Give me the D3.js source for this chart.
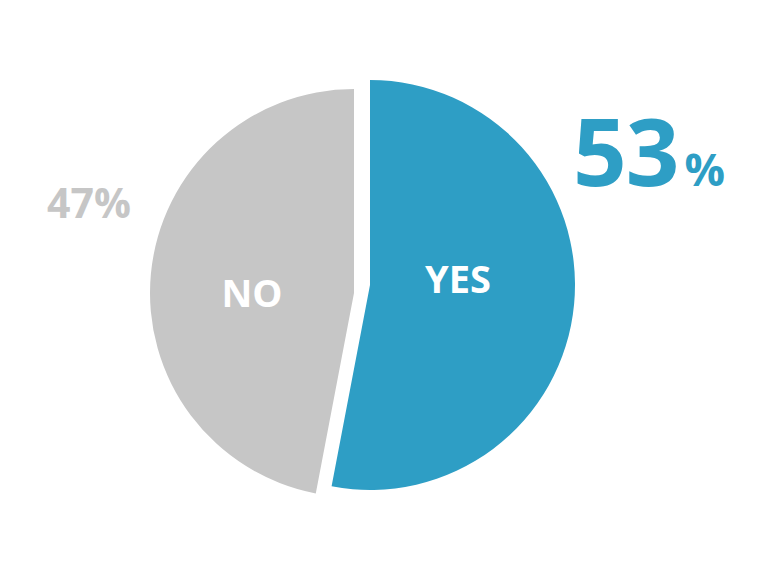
<!DOCTYPE html>
<html>
<head>
<meta charset="utf-8">
<script src="https://cdn.jsdelivr.net/npm/d3@7"></script>
<style>
  html, body { margin: 0; padding: 0; background: #fff; }
  svg { display: block; font-family: "Open Sans", "Noto Sans", sans-serif; font-weight: 700; }
</style>
</head>
<body>
<svg id="chart" width="780" height="588"></svg>
<script>
const categories = ["YES", "NO"];
const values = [53, 47];
const percentLabels = ["53", "47"];

const colors = d3.scaleOrdinal().domain(categories).range(["#2E9EC5", "#C6C6C6"]);

const svg = d3.select("#chart");
const pie = d3.pie().sort(null).value(d => d.value);
const data = categories.map((c, i) => ({ category: c, value: values[i] }));
const arcs = pie(data);

const centers = { YES: [370, 285], NO: [354, 293] };
const radius = { YES: 205, NO: 204 };

const g = svg.selectAll("g.slice").data(arcs).enter().append("g")
  .attr("class", "slice")
  .attr("transform", d => `translate(${centers[d.data.category][0]},${centers[d.data.category][1]})`);

g.append("path")
  .attr("d", d => d3.arc().innerRadius(0).outerRadius(radius[d.data.category])(d))
  .attr("fill", d => colors(d.data.category));

// in-slice labels
const inLabel = { YES: { dx: 88, dy: 7.5, size: 38 }, NO: { dx: -102, dy: 13.5, size: 38 } };
g.append("text")
  .attr("x", d => inLabel[d.data.category].dx)
  .attr("y", d => inLabel[d.data.category].dy)
  .attr("text-anchor", "middle")
  .attr("fill", "#fff")
  .attr("font-size", d => inLabel[d.data.category].size)
  .text(d => d.data.category);

// big percentage YES
const t1 = svg.append("text")
  .attr("x", 573).attr("y", 186)
  .attr("fill", colors("YES"))
  .attr("font-size", 94)
  .attr("letter-spacing", -1)
  .text(percentLabels[0]);
t1.append("tspan").attr("font-size", 45).attr("dx", 6).text("%");

// percentage NO
svg.append("text")
  .attr("x", 47).attr("y", 218)
  .attr("fill", colors("NO"))
  .attr("font-size", 41)
  .text(percentLabels[1] + "%");
</script>
</body>
</html>
